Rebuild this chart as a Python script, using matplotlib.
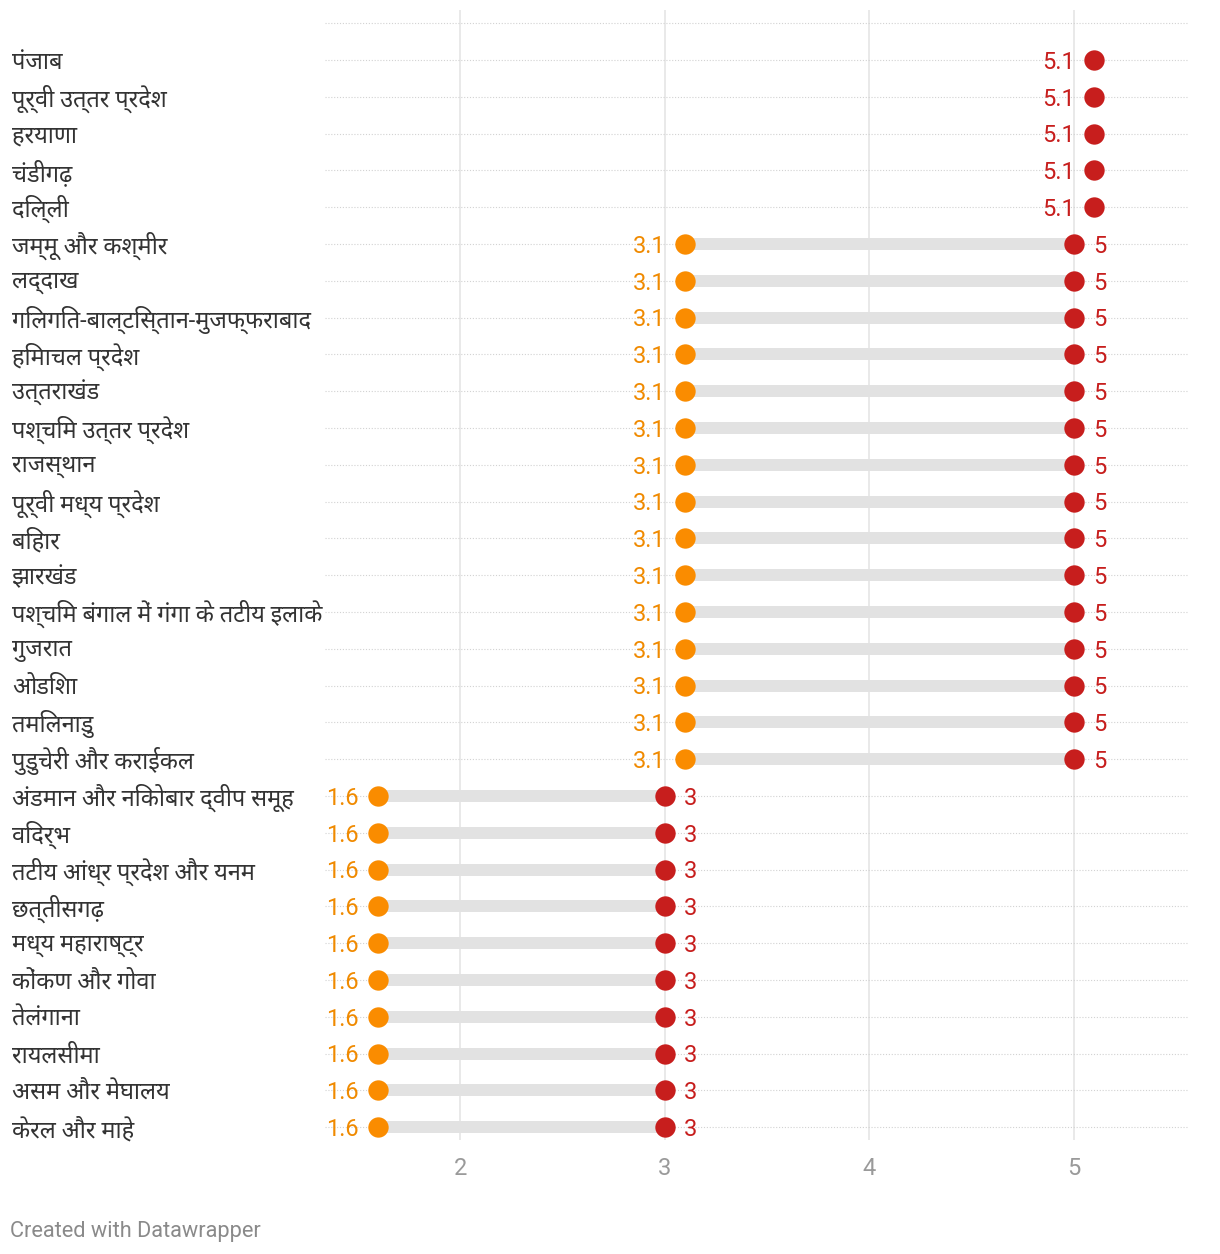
import matplotlib
matplotlib.use("Agg")
import matplotlib.pyplot as plt
import matplotlib.transforms as mtransforms
import numpy as np

regions = [
    "पंजाब", "पूर्वी उत्तर प्रदेश", "हरयाणा", "चंडीगढ़", "दिल्ली",
    "जम्मू और कश्मीर", "लद्दाख", "गिलगित-बाल्टिस्तान-मुजफ्फराबाद", "हिमाचल प्रदेश",
    "उत्तराखंड", "पश्चिम उत्तर प्रदेश", "राजस्थान", "पूर्वी मध्य प्रदेश", "बिहार",
    "झारखंड", "पश्चिम बंगाल में गंगा के तटीय इलाके", "गुजरात", "ओडिशा", "तमिलनाडु",
    "पुडुचेरी और कराईकल", "अंडमान और निकोबार द्वीप समूह", "विदर्भ",
    "तटीय आंध्र प्रदेश और यनम", "छत्तीसगढ़", "मध्य महाराष्ट्र", "कोंकण और गोवा",
    "तेलंगाना", "रायलसीमा", "असम और मेघालय", "केरल और माहे",
]
low_values = [5.1] * 5 + [3.1] * 15 + [1.6] * 10
high_values = [5.1] * 5 + [5.0] * 15 + [3.0] * 10
x_ticks = [2, 3, 4, 5]

FAM = ['Roboto', 'Noto Sans Devanagari', 'Hind', 'Mukta', 'FreeSans', 'DejaVu Sans']
plt.rcParams['font.family'] = FAM

ORANGE = '#fa8c00'
RED = '#c71e1d'
ORANGE_TXT = '#f08a00'
RED_TXT = '#c71e1d'
BAR = '#e2e2e2'
VAL_FS = 17

W, H = 1220, 1254
fig = plt.figure(figsize=(W / 100, H / 100), dpi=100)
ax_left, ax_right = 325, 1188
ax_top, ax_bot = 10, 1140
ax = fig.add_axes([ax_left / W, 1 - ax_bot / H, (ax_right - ax_left) / W, (ax_bot - ax_top) / H])

n = len(regions)
row_px = 36.8
first_px = 60
y_top = -(first_px - ax_top) / row_px
y_bot = (n - 1) + (ax_bot - (first_px + (n - 1) * row_px)) / row_px
ax.set_ylim(y_bot, y_top)
ax.set_xlim(1.34, 5.557)

for s in ax.spines.values():
    s.set_visible(False)
ax.set_yticks([])
ax.set_xticks(x_ticks)
ax.set_xticklabels([str(t) for t in x_ticks])
ax.tick_params(axis='x', length=0, pad=12, labelsize=17, labelcolor='#9a9a9a')

# vertical gridlines
for t in x_ticks:
    ax.axvline(t, color='#e3e3e3', lw=1.1, zorder=0)

# dotted row lines
ys = np.arange(n)
for y in list(ys) + [-1]:
    ax.axhline(y, color='#d2d2d2', lw=0.8, linestyle=(0, (1, 1.6)), zorder=0.5)

DY = -1.6
# bars and dots
for i, (lo, hi) in enumerate(zip(low_values, high_values)):
    if lo != hi:
        ax.plot([lo, hi], [i, i], color=BAR, lw=8.6, solid_capstyle='butt', zorder=1)
        ax.scatter([lo], [i], s=215, color=ORANGE, zorder=3, linewidths=0)
        ax.scatter([hi], [i], s=215, color=RED, zorder=3, linewidths=0)
        ax.annotate(f"{lo:g}", (lo, i), xytext=(-14, DY), textcoords='offset points',
                    ha='right', va='center', color=ORANGE_TXT, fontsize=VAL_FS)
        ax.annotate(f"{hi:g}", (hi, i), xytext=(14, DY), textcoords='offset points',
                    ha='left', va='center', color=RED_TXT, fontsize=VAL_FS)
    else:
        ax.scatter([hi], [i], s=215, color=RED, zorder=3, linewidths=0)
        ax.annotate(f"{hi:g}", (hi, i), xytext=(-14, DY), textcoords='offset points',
                    ha='right', va='center', color=RED_TXT, fontsize=VAL_FS)

# row labels
trans = mtransforms.blended_transform_factory(fig.transFigure, ax.transData)
off = mtransforms.ScaledTranslation(0, -1.5 / 72, fig.dpi_scale_trans)
for i, name in enumerate(regions):
    ax.text(12 / W, i, name, transform=trans + off, ha='left', va='center',
            fontsize=17, color='#333333', clip_on=False)

fig.text(10 / W, 1 - 1231 / H, "Created with Datawrapper", ha='left', va='center',
         fontsize=15.7, color='#8a8a8a')

fig.savefig("out.png", dpi=100, facecolor='white')
